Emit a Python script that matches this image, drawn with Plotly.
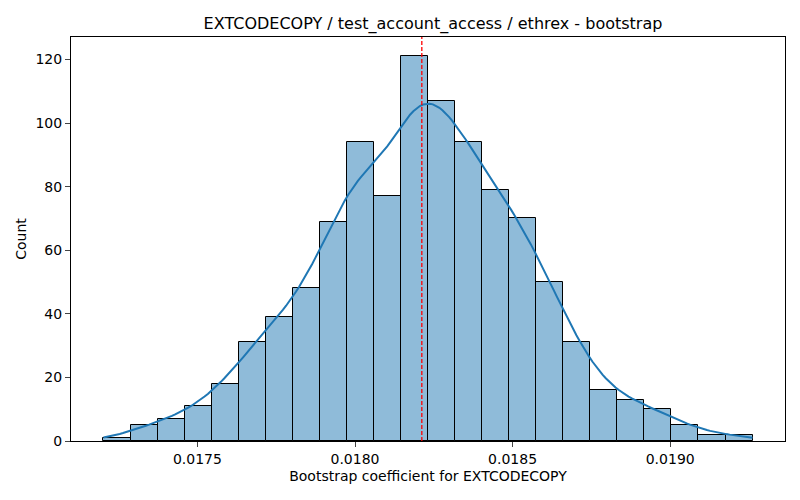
import numpy as np
import plotly.graph_objects as go

# histogram of bootstrap coefficients (counts)
counts = [1, 5, 7, 11, 18, 31, 39, 48, 69, 94, 77, 121,
          107, 94, 79, 70, 50, 31, 16, 13, 10, 5, 2, 2]
bin_start = 0.017202
bin_width = 0.0000858
mean_value = 0.018212

x_ticks = [0.0175, 0.0180, 0.0185, 0.0190]
y_ticks = [0, 20, 40, 60, 80, 100, 120]

edges = bin_start + bin_width * np.arange(len(counts) + 1)
centers = (edges[:-1] + edges[1:]) / 2
w = np.array(counts, dtype=float)
n = w.sum()

# gaussian kde on the binned values, scott bandwidth, scaled to counts
mu = np.sum(w * centers) / n
sd = np.sqrt(np.sum(w * (centers - mu) ** 2) / n)
bw = sd * n ** (-1 / 5)
grid = np.linspace(edges[0], edges[-1], 200)
dens = np.sum(w[None, :] * np.exp(-0.5 * ((grid[:, None] - centers[None, :]) / bw) ** 2), axis=1)
dens = dens / (n * bw * np.sqrt(2 * np.pi))
kde_counts = dens * n * bin_width

span = edges[-1] - edges[0]
x_range = [edges[0] - 0.05 * span, edges[-1] + 0.05 * span]
y_range = [0, max(counts) * 1.05]

fig = go.Figure()
fig.add_trace(go.Bar(x=centers, y=counts, width=bin_width,
                     marker=dict(color='rgba(31,119,180,0.5)',
                                 line=dict(color='black', width=1)),
                     hoverinfo='x+y'))
fig.add_trace(go.Scatter(x=grid, y=kde_counts, mode='lines',
                         line=dict(color='#1f77b4', width=2)))
fig.add_shape(type='line', x0=mean_value, x1=mean_value, y0=0, y1=1,
              xref='x', yref='paper',
              line=dict(color='red', width=1.3, dash='4px,2px'))

# the page body has an 8px margin, so the figure sits 8px in from the corner
fig.update_layout(width=800, height=500,
                  margin=dict(l=63, r=23, t=29, b=67),
                  plot_bgcolor='white', paper_bgcolor='white',
                  showlegend=False, bargap=0,
                  font=dict(family='DejaVu Sans', size=14, color='black'),
                  title=dict(text='EXTCODECOPY / test_account_access / ethrex - bootstrap',
                             x=0.507, xanchor='center', xref='paper',
                             y=1 - 15 / 500, yref='container', yanchor='middle',
                             font=dict(size=16)))
fig.update_xaxes(range=x_range, tickvals=x_ticks, tickformat='.4f',
                 automargin=False, tickfont=dict(size=14),
                 showgrid=False, zeroline=False, showline=True, linecolor='black',
                 linewidth=1, mirror=True, ticks='outside', ticklen=5,
                 title=dict(text='Bootstrap coefficient for EXTCODECOPY',
                            standoff=5, font=dict(size=14)))
fig.update_yaxes(range=y_range, tickvals=y_ticks,
                 automargin=False, tickfont=dict(size=14),
                 showgrid=False, zeroline=False, showline=True, linecolor='black',
                 linewidth=1, mirror=True, ticks='outside', ticklen=5,
                 title=dict(text='Count', standoff=5, font=dict(size=14)))

fig.write_html("out.html")
